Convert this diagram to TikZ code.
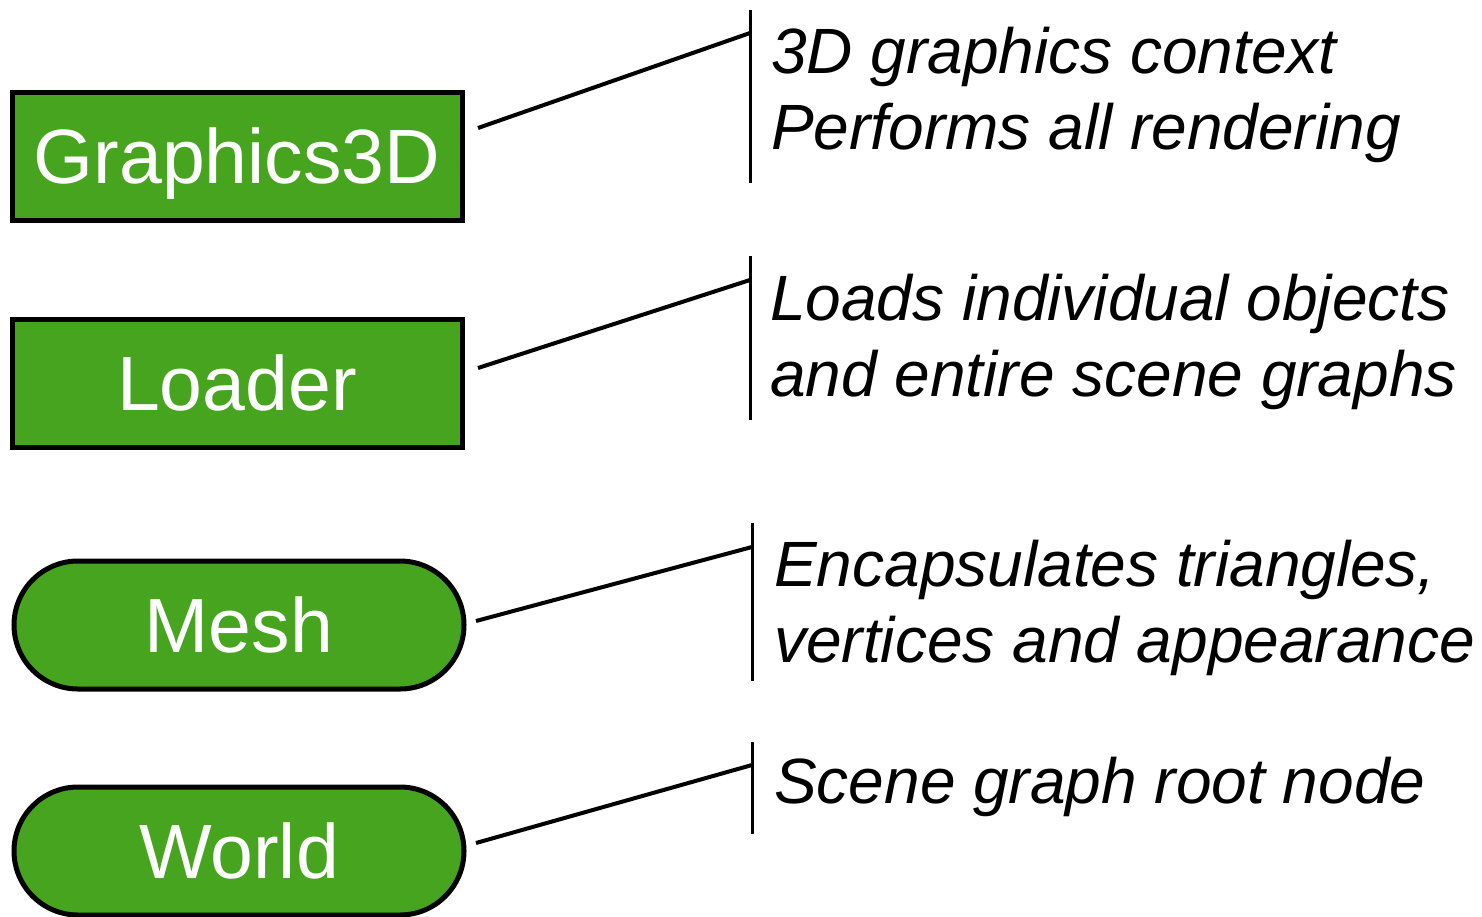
\documentclass[tikz,border=0pt]{standalone}
\usepackage{fontspec}
\setmainfont{Liberation Sans}
\definecolor{boxgreen}{HTML}{46A41E}
\begin{document}
\begin{tikzpicture}[x=1pt,y=-1pt,
  comp/.style={draw=black,line width=5pt,fill=boxgreen,text=white,
    minimum width=450pt,minimum height=128pt,inner sep=0pt,
    text height=55pt,text depth=0pt,
    font=\fontsize{77}{90}\selectfont},
  pill/.style={comp,rounded corners=64pt},
  desc/.style={anchor=base west,inner sep=0pt,align=left,
    font=\itshape\fontsize{64}{76}\selectfont},
  lead/.style={line width=4pt},
  bar/.style={line width=3pt}]
\useasboundingbox (0,0) rectangle (1482,916);
\node[comp] (g) at (237,156) {Graphics3D};
\node[comp] (l) at (237,383) {Loader};
\node[pill] (m) at (239,625) {Mesh};
\node[pill] (w) at (239,851) {World};
% bars
\coordinate (gb1) at (750,10); \coordinate (gb2) at (750,183);
\coordinate (lb1) at (750,256); \coordinate (lb2) at (750,420);
\coordinate (mb1) at (752,523); \coordinate (mb2) at (752,681);
\coordinate (wb1) at (752,742); \coordinate (wb2) at (752,834);
\draw[bar] (gb1) -- (gb2);
\draw[bar] (lb1) -- (lb2);
\draw[bar] (mb1) -- (mb2);
\draw[bar] (wb1) -- (wb2);
% leaders
\coordinate (gs) at (478,128); \coordinate (ge) at (750,33);
\coordinate (ls) at (478,368); \coordinate (le) at (750,280);
\coordinate (ms) at (476,621); \coordinate (me) at (752,547);
\coordinate (ws) at (476,843); \coordinate (we) at (752,765);
\draw[lead] (gs) -- (ge);
\draw[lead] (ls) -- (le);
\draw[lead] (ms) -- (me);
\draw[lead] (ws) -- (we);
% descriptions (anchored at the baseline of the last line)
\node[desc] (gd) at (771,149) {3D graphics context\\Performs all rendering};
\node[desc] (ld) at (770,396) {Loads individual objects\\and entire scene graphs};
\node[desc] (md) at (774,662) {Encapsulates triangles,\\vertices and appearance};
\node[desc] (wd) at (774,803) {Scene graph root node};
\end{tikzpicture}
\end{document}
